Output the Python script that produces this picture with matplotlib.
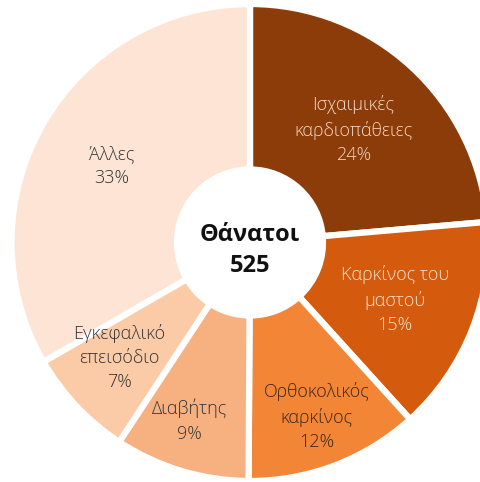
import matplotlib
matplotlib.use("Agg")
from matplotlib import pyplot as plt
import numpy as np

# data
categories = ["Ισχαιμικές\nκαρδιοπάθειες", "Καρκίνος του\nμαστού", "Ορθοκολικός\nκαρκίνος",
              "Διαβήτης", "Εγκεφαλικό\nεπεισόδιο", "Άλλες"]
deaths = [124, 77, 62, 48, 39, 175]
total_deaths = 525
center_title = "Θάνατοι"

# style
colors = ["#8B3C09", "#D45B0D", "#F28536", "#F7B180", "#FBCBA8", "#FDE4D5"]
text_colors = ["#F6D8C4", "#FBE2D0", "#3A2515", "#333333", "#333333", "#333333"]
label_r = [0.65, 0.66, 0.79, 0.80, 0.74, 0.67]
label_dang = [0, 0, 0, -2, -2, 1]

plt.rcParams['font.family'] = ['Open Sans', 'DejaVu Sans']

fig = plt.figure(figsize=(4.81, 4.82), dpi=100)
ax = fig.add_axes([0, 0, 1, 1])

R = 238.5
hole = 73
wedges, _ = ax.pie(deaths, radius=R, startangle=90, counterclock=False, colors=colors,
                   wedgeprops=dict(width=R - hole, edgecolor="white", linewidth=4.5))

for w, lab, v, tc, lr, da in zip(wedges, categories, deaths, text_colors, label_r, label_dang):
    ang = np.deg2rad((w.theta1 + w.theta2) / 2 + da)
    x = np.cos(ang) * lr * 235.5
    y = np.sin(ang) * lr * 235.5
    pct = int(round(100.0 * v / total_deaths))
    ax.text(x, y, "%s\n%d%%" % (lab, pct), ha="center", va="center", fontsize=13,
            fontweight="light", color=tc, linespacing=1.45)

ax.text(0, -8, "%s\n%d" % (center_title, total_deaths), ha="center", va="center",
        fontsize=17, fontweight="bold", color="#111111", linespacing=1.4)

ax.set_xlim(-250, 231)
ax.set_ylim(-239.5, 242.5)
ax.set_aspect("auto")
ax.axis("off")

fig.savefig("out.png", dpi=100)
